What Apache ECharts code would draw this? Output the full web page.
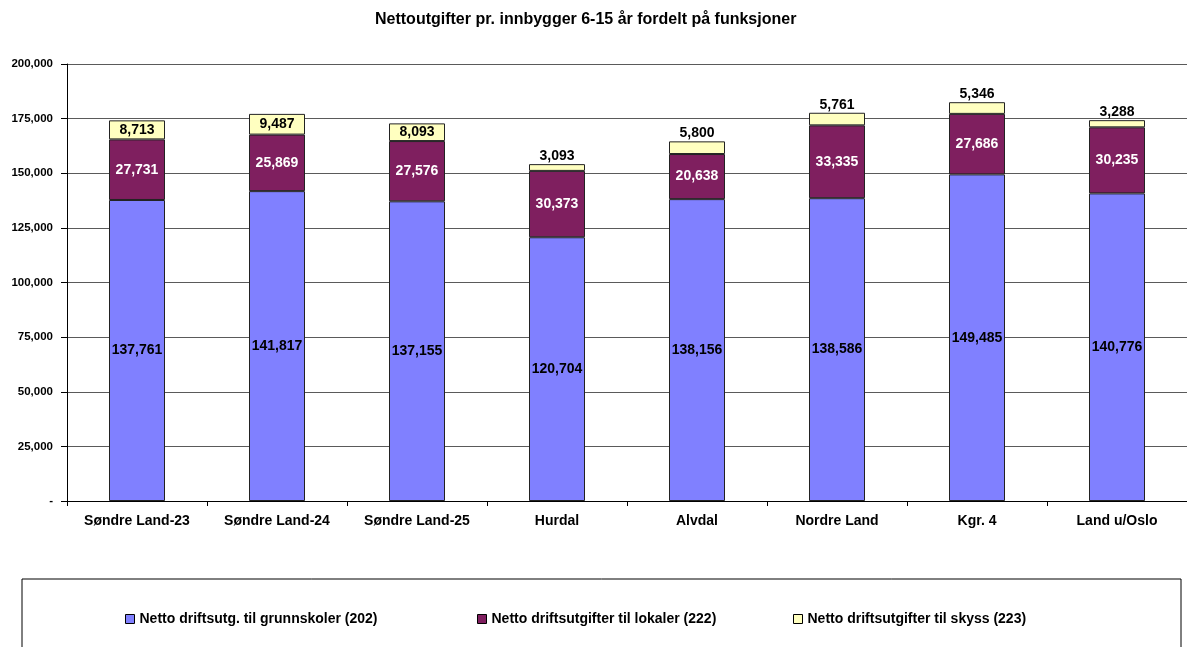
<!DOCTYPE html>
<html lang="no">
<head>
<meta charset="utf-8">
<script src="https://cdn.jsdelivr.net/npm/echarts@6/dist/echarts.min.js"></script>
<title>Nettoutgifter</title>
<style>
  html, body { margin: 0; padding: 0; background: #fff; }
  #main { width: 1187px; height: 647px; }
</style>
</head>
<body>
<div id="main"></div>
<script>
// data
const categories = ['Søndre Land-23', 'Søndre Land-24', 'Søndre Land-25', 'Hurdal', 'Alvdal', 'Nordre Land', 'Kgr. 4', 'Land u/Oslo'];
const grunnskoler = [137761, 141817, 137155, 120704, 138156, 138586, 149485, 140776];
const lokaler = [27731, 25869, 27576, 30373, 20638, 33335, 27686, 30235];
const skyss = [8713, 9487, 8093, 3093, 5800, 5761, 5346, 3288];
const seriesNames = ['Netto driftsutg. til grunnskoler (202)', 'Netto driftsutgifter til lokaler (222)', 'Netto driftsutgifter til skyss (223)'];

const font = "'Liberation Sans', Arial, sans-serif";
const fmt = v => v === 0 ? '-' : v.toLocaleString('en-US');

let chart = echarts.init(document.getElementById('main'));

function legendAt(name, left) {
  return {
    data: [name],
    left: left,
    top: 607,
    icon: 'rect',
    itemWidth: 9,
    itemHeight: 9,
    itemStyle: { borderColor: '#000', borderWidth: 1 },
    textStyle: { fontFamily: font, fontSize: 14, fontWeight: 'bold', color: '#000' },
    itemGap: 4
  };
}

const barStyle = color => ({ color: color, borderColor: '#222', borderWidth: 1 });
const labelStyle = (color, pos) => ({
  show: true,
  position: pos,
  color: color,
  fontFamily: font,
  fontSize: 14,
  fontWeight: 'bold',
  formatter: p => fmt(p.value)
});

let option = {
  animation: false,
  backgroundColor: '#fff',
  title: {
    text: 'Nettoutgifter pr. innbygger 6-15 år fordelt på funksjoner',
    left: 370,
    top: 7,
    textStyle: { fontFamily: font, fontSize: 16, fontWeight: 'bold', color: '#000' }
  },
  legend: [
    legendAt(seriesNames[0], 120),
    legendAt(seriesNames[1], 472),
    legendAt(seriesNames[2], 788)
  ],
  graphic: [{
    type: 'rect',
    shape: { x: 22, y: 579, width: 1159, height: 100 },
    style: { fill: 'none', stroke: '#000', lineWidth: 1 },
    silent: true
  }],
  grid: { left: 67, right: -6, top: 64, bottom: 146 },
  xAxis: {
    type: 'category',
    data: categories,
    axisLine: { lineStyle: { color: '#000', width: 1 } },
    axisTick: { show: true, length: 5, lineStyle: { color: '#000' } },
    axisLabel: { fontFamily: font, fontSize: 14, fontWeight: 'bold', color: '#000', margin: 13 }
  },
  yAxis: {
    type: 'value',
    min: 0,
    max: 200000,
    interval: 25000,
    axisLine: { show: true, lineStyle: { color: '#000', width: 1 } },
    axisTick: { show: true, length: 6, lineStyle: { color: '#000' } },
    axisLabel: { fontFamily: font, fontSize: 11.5, fontWeight: 'bold', color: '#000', margin: 14, formatter: fmt },
    splitLine: { lineStyle: { color: '#5a5a5a', width: 1 } }
  },
  series: [
    {
      name: seriesNames[0],
      type: 'bar',
      stack: 'total',
      barWidth: 56,
      data: grunnskoler,
      itemStyle: barStyle('#8080FF'),
      label: labelStyle('#000', 'inside')
    },
    {
      name: seriesNames[1],
      type: 'bar',
      stack: 'total',
      barWidth: 56,
      data: lokaler,
      itemStyle: barStyle('#7F1F5F'),
      label: labelStyle('#fff', 'inside')
    },
    {
      name: seriesNames[2],
      type: 'bar',
      stack: 'total',
      barWidth: 56,
      // small segments get their label above the bar
      data: skyss.map(v => ({ value: v, label: { position: v >= 7000 ? 'inside' : 'top', distance: 1 } })),
      itemStyle: barStyle('#FFFFC0'),
      label: labelStyle('#000', 'inside')
    }
  ]
};

chart.setOption(option);
</script>
</body>
</html>
